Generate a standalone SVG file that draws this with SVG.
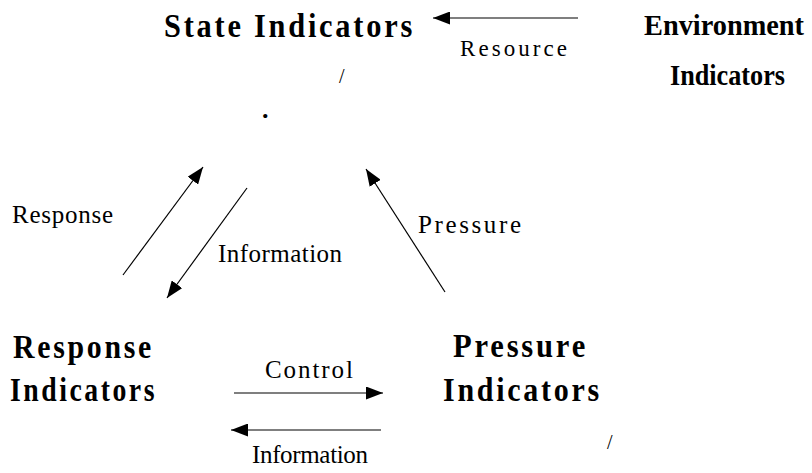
<svg xmlns="http://www.w3.org/2000/svg" width="812" height="473" viewBox="0 0 812 473" font-family="'Liberation Serif', 'Times New Roman', Times, serif">
  <defs>
    <marker id="head" markerUnits="userSpaceOnUse" markerWidth="18" markerHeight="13" refX="17" refY="6.5" orient="auto">
      <path d="M0,0 L17,6.5 L0,13 Z" fill="#000"/>
    </marker>
    <style>
      text { font-family: 'Liberation Serif', 'Times New Roman', Times, serif; fill: #000; }
      .node { font-weight: bold; font-size: 33px; letter-spacing: 3px; }
      .env { font-weight: bold; font-size: 30px; }
      .lbl { font-size: 25px; }
      .edge { stroke: #000; stroke-width: 1.2; fill: none; marker-end: url(#head); }
    </style>
  </defs>
  <rect width="812" height="473" fill="#fff"/>

  <g id="state">
    <text class="node" x="164" y="37" textLength="251" lengthAdjust="spacingAndGlyphs">State Indicators</text>
  </g>

  <g id="environment">
    <text class="env" x="644" y="35" textLength="160" lengthAdjust="spacingAndGlyphs">Environment</text>
    <text class="env" x="670" y="85" textLength="115" lengthAdjust="spacingAndGlyphs">Indicators</text>
  </g>

  <g id="response">
    <text class="node" x="13" y="358" textLength="141" lengthAdjust="spacingAndGlyphs">Response</text>
    <text class="node" x="10" y="401" textLength="147" lengthAdjust="spacingAndGlyphs">Indicators</text>
  </g>

  <g id="pressure">
    <text class="node" x="453" y="357" textLength="135" lengthAdjust="spacingAndGlyphs">Pressure</text>
    <text class="node" x="443" y="401" textLength="159" lengthAdjust="spacingAndGlyphs">Indicators</text>
  </g>

  <g id="connectors">
    <line class="edge" x1="578" y1="18" x2="433" y2="18"/>
    <line class="edge" x1="123" y1="275" x2="203" y2="167"/>
    <line class="edge" x1="247" y1="188" x2="167" y2="298"/>
    <line class="edge" x1="445" y1="292" x2="366" y2="169"/>
    <line class="edge" x1="234" y1="393" x2="383" y2="393"/>
    <line class="edge" x1="381" y1="430" x2="231" y2="430"/>

    <text class="lbl" x="460" y="56" style="font-size:23px" textLength="107">Resource</text>
    <text class="lbl" x="12" y="223" textLength="101">Response</text>
    <text class="lbl" x="218" y="262" textLength="124">Information</text>
    <text class="lbl" x="418" y="233" textLength="103">Pressure</text>
    <text class="lbl" x="265" y="378" textLength="88">Control</text>
    <text class="lbl" x="252" y="463" textLength="116">Information</text>
  </g>

  <!-- stray marks -->
  <text class="lbl" x="339" y="83" style="font-size:20px">/</text>
  <text class="lbl" x="262" y="118" style="font-size:26px;font-weight:bold">.</text>
  <text class="lbl" x="607" y="449" style="font-size:20px">/</text>
</svg>
